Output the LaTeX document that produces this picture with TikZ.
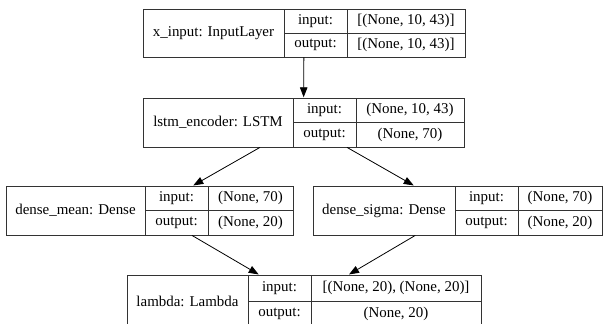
\documentclass[tikz,border=0pt]{standalone}
\usepackage{fontspec}
\setmainfont{Liberation Serif}
\usetikzlibrary{arrows.meta,fit}
\tikzset{
  cell/.style={draw=black!80, line width=0.8bp, rectangle, inner sep=0pt,
    anchor=center, font=\fontsize{15}{17}\selectfont},
  outer/.style={inner sep=0pt, outer sep=0pt, rectangle},
  arr/.style={draw=black, line width=0.8bp, -{Triangle[length=10bp,width=7.5bp]}, shorten >=0.3bp}
}
\begin{document}
\begin{tikzpicture}[x=1bp,y=-1bp]
\useasboundingbox (0,0) rectangle (603,323);
\clip (0,0) rectangle (603,323);
% x_input
\node[cell, minimum width=141bp, minimum height=48bp] (n1) at (213.5,33) {x\_input: InputLayer};
\node[cell, minimum width=63bp, minimum height=24bp] (i1) at (315.5,21) {input:};
\node[cell, minimum width=63bp, minimum height=24bp] (o1) at (315.5,45) {output:};
\node[cell, minimum width=118bp, minimum height=24bp] (iv1) at (406,21) {[(None, 10, 43)]};
\node[cell, minimum width=118bp, minimum height=24bp] (ov1) at (406,45) {[(None, 10, 43)]};
\node[outer, fit={(n1) (ov1) (iv1)}] (xin) {};
% lstm
\node[cell, minimum width=150bp, minimum height=49bp] (n2) at (218,122.5) {lstm\_encoder: LSTM};
\node[cell, minimum width=63bp, minimum height=24.5bp] (i2) at (324.5,110.25) {input:};
\node[cell, minimum width=63bp, minimum height=24.5bp] (o2) at (324.5,134.75) {output:};
\node[cell, minimum width=108bp, minimum height=24.5bp] (iv2) at (410,110.25) {(None, 10, 43)};
\node[cell, minimum width=108bp, minimum height=24.5bp] (ov2) at (410,134.75) {(None, 70)};
\node[outer, fit={(n2) (iv2) (ov2)}] (lstm) {};
% dense_mean
\node[cell, minimum width=139bp, minimum height=49bp] (n3) at (75.5,210.5) {dense\_mean: Dense};
\node[cell, minimum width=63bp, minimum height=24.5bp] (i3) at (176.5,198.25) {input:};
\node[cell, minimum width=63bp, minimum height=24.5bp] (o3) at (176.5,222.75) {output:};
\node[cell, minimum width=85bp, minimum height=24.5bp] (iv3) at (250.5,198.25) {(None, 70)};
\node[cell, minimum width=85bp, minimum height=24.5bp] (ov3) at (250.5,222.75) {(None, 20)};
\node[outer, fit={(n3) (iv3) (ov3)}] (dmean) {};
% dense_sigma
\node[cell, minimum width=142bp, minimum height=49bp] (n4) at (384,210.5) {dense\_sigma: Dense};
\node[cell, minimum width=63bp, minimum height=24.5bp] (i4) at (486.5,198.25) {input:};
\node[cell, minimum width=63bp, minimum height=24.5bp] (o4) at (486.5,222.75) {output:};
\node[cell, minimum width=84bp, minimum height=24.5bp] (iv4) at (560,198.25) {(None, 70)};
\node[cell, minimum width=84bp, minimum height=24.5bp] (ov4) at (560,222.75) {(None, 20)};
\node[outer, fit={(n4) (iv4) (ov4)}] (dsigma) {};
% lambda
\node[cell, minimum width=121bp, minimum height=52bp] (n5) at (187.5,301) {lambda: Lambda};
\node[cell, minimum width=63bp, minimum height=26bp] (i5) at (279.5,288) {input:};
\node[cell, minimum width=63bp, minimum height=26bp] (o5) at (279.5,314) {output:};
\node[cell, minimum width=170bp, minimum height=26bp] (iv5) at (396,288) {[(None, 20), (None, 20)]};
\node[cell, minimum width=170bp, minimum height=26bp] (ov5) at (396,314) {(None, 20)};
\node[outer, fit={(n5) (iv5) (ov5)}] (lam) {};
% edges
\draw[arr] (xin) -- (lstm);
\draw[arr] (lstm) -- (dmean);
\draw[arr] (lstm) -- (dsigma);
\draw[arr] (dmean) -- (lam);
\draw[arr] (dsigma) -- (lam);
\end{tikzpicture}
\end{document}
